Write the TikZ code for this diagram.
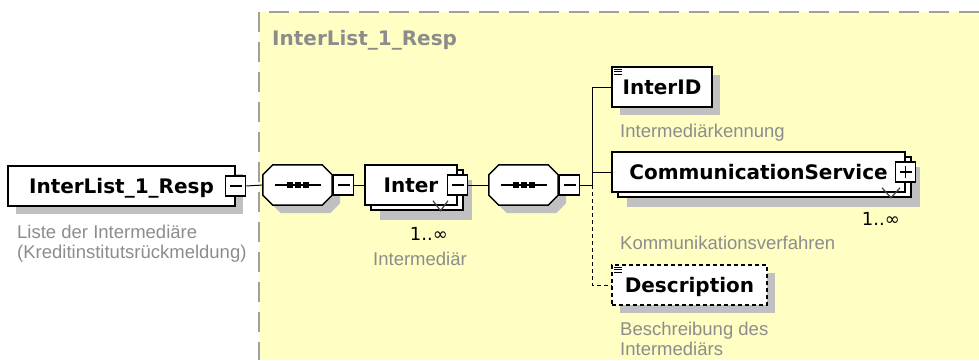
\documentclass[tikz,border=0pt]{standalone}
\usepackage{fontspec}
\usetikzlibrary{positioning,shadows}

\newfontfamily\dejavu{DejaVu Sans}
\newfontfamily\libsans{Liberation Sans}
\newcommand\boxfont{\dejavu\bfseries\fontsize{20}{24}\selectfont}
\newcommand\notefont{\libsans\fontsize{18.5}{20}\selectfont}
\newcommand\multfont{\dejavu\fontsize{18}{20}\selectfont}

\definecolor{areayellow}{HTML}{FFFFC4}
\definecolor{areaborder}{HTML}{A0A0A0}
\definecolor{shadowgray}{HTML}{C0C0C0}
\definecolor{notegray}{HTML}{8C8C8C}

\tikzset{
  dropshade/.style={general shadow={fill=shadowgray, shadow xshift=#1, shadow yshift=-#1}},
  elembox/.style={draw, fill=white, line width=1.5pt, minimum height=40pt,
    inner xsep=0pt, text height=14.6pt, text depth=0pt, font=\boxfont},
  elemone/.style={elembox, dropshade=8pt},
  elemmany/.style={elembox, dropshade=15pt, copy shadow={shadow xshift=6pt, shadow yshift=-5pt}},
  elemopt/.style={elemone, dash pattern=on 4pt off 3pt},
  seqbox/.style={minimum width=69pt, minimum height=40pt, inner sep=0pt},
  seqline/.style={draw, fill=white, line width=1.5pt, dropshade=8pt},
  togglebox/.style={draw, fill=white, line width=1.2pt, minimum size=20pt, inner sep=0pt},
  notetext/.style={font=\notefont, text=notegray, inner sep=0pt, align=left, anchor=base west},
  multtext/.style={font=\multfont, inner sep=0pt, anchor=base east},
  connline/.style={line width=1pt},
  mark tri/.style={line width=1.2pt, draw=black!75, line join=miter},
}

\begin{document}
\begin{tikzpicture}[x=1pt, y=-1pt]
\useasboundingbox (0,0) rectangle (979,360);

% area del tipo complesso
\fill[areayellow] (259,12) rectangle (979,360);
\draw[areaborder, line width=2pt, dash pattern=on 20pt off 10pt] (979,12) -- (259,12) -- (259,360);
\node[font=\boxfont, text=notegray, inner sep=0pt, anchor=base west] (areatitle) at (272,45) {InterList\_1\_Resp};

% elemento radice
\node[elemone, minimum width=227pt] (root) at (121.5,186) {InterList\_1\_Resp};
\node[togglebox] (roottog) at (root.east) {};
\node[notetext] (rootnote) at (17,258) {Liste der Intermediäre\\(Kreditinstitutsrückmeldung)};

% sequenze (ottagoni)
\node[seqbox] (seqA) at (297.5,185) {};
\node[seqbox] (seqB) at (523.5,185) {};
\foreach \nd in {seqA,seqB} {
  \path[seqline] ([xshift=10pt]\nd.north west) -- ([xshift=-10pt]\nd.north east)
    -- ([yshift=-10pt]\nd.north east) -- ([yshift=10pt]\nd.south east)
    -- ([xshift=-10pt]\nd.south east) -- ([xshift=10pt]\nd.south west)
    -- ([yshift=10pt]\nd.south west) -- ([yshift=-10pt]\nd.north west) -- cycle;
  \draw[line width=1.2pt] ([xshift=-23pt]\nd.center) -- ([xshift=23pt]\nd.center);
  \foreach \dx in {-8,0,8}
    \fill ([xshift=\dx pt]\nd.center) +(-3,-3) rectangle +(3,3);
}
\node[togglebox, right=1pt of seqA] (seqAtog) {};
\node[togglebox, right=1pt of seqB] (seqBtog) {};
\coordinate (bus) at (592,185);

% elemento Inter
\node[elemmany, minimum width=92pt] (inter) at (411,185) {Inter};
\node[togglebox] (intertog) at (inter.east) {};
\draw[mark tri] ([xshift=22pt,yshift=5pt]inter.south) -- ++(7.5,10) -- ++(7.5,-10);
\node[multtext] (intermult) at (448,240) {1..∞};
\node[notetext] (internote) at (373,265) {Intermediär};

% figli
\node[elemone, minimum width=100pt] (interid) at (662,87) {InterID};
\node[notetext] (interidnote) at (620,137) {Intermediärkennung};

\node[elemmany, minimum width=293pt] (commsvc) at (758.5,172) {CommunicationService};
\node[togglebox] (commtog) at (commsvc.east) {};
\draw[mark tri] ([xshift=123.5pt,yshift=5pt]commsvc.south) -- ++(9,10) -- ++(9,-10);
\node[multtext] (commmult) at (900,225) {1..∞};
\node[notetext] (commnote) at (620,249) {Kommunikationsverfahren};

\node[elemopt, minimum width=155pt] (descr) at (689.5,285) {Description};
\node[notetext] (descrnote) at (620,355) {Beschreibung des\\Intermediärs};

% simboli interni
\foreach \nd in {roottog,seqAtog,intertog,seqBtog,commtog}
  \draw[line width=1.4pt] ([xshift=-6pt]\nd.center) -- ([xshift=6pt]\nd.center);
\draw[line width=1.4pt] ([yshift=-6pt]commtog.center) -- ([yshift=6pt]commtog.center);
\foreach \nd in {interid,descr}
  \foreach \dy in {3,5.5,8}
    \draw[line width=1pt] ([xshift=3pt,yshift=-\dy pt]\nd.north west) -- ++(8,0);

% collegamenti
\draw[connline] (roottog.east) -- (seqA.west);
\draw[connline] (seqAtog.east) -- (inter.west);
\draw[connline] (intertog.east) -- (seqB.west);
\draw[connline] (seqBtog.east) -- (bus);
\draw[connline] (interid.west) -| (bus);
\draw[connline] (commsvc.west) -- (commsvc.west -| bus);
\draw[connline, dash pattern=on 4pt off 3pt] (bus) |- (descr.west);

\end{tikzpicture}
\end{document}
